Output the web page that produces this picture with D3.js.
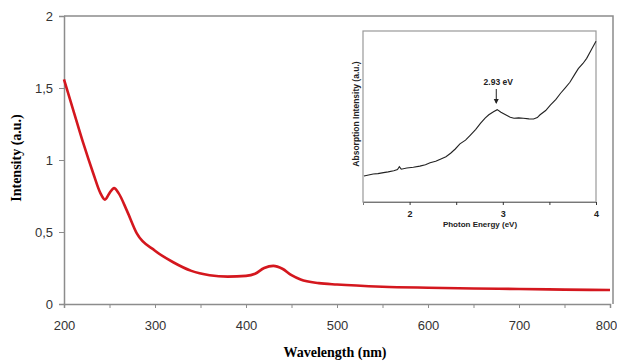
<!DOCTYPE html>
<html>
<head>
<meta charset="utf-8">
<script src="https://cdn.jsdelivr.net/npm/d3@7"></script>
<style>
  body { margin: 0; background: #fff; }
  svg { display: block; }
</style>
</head>
<body>
<script>
// main spectrum: wavelength (nm) vs intensity (a.u.)
var wavelengths = [200, 210, 221, 232, 240, 245, 250, 255, 260, 269, 280, 300, 320, 340, 360, 380, 400, 410, 420, 430, 440, 450, 460, 480, 500, 550, 600, 650, 700, 750, 800];
var intensities = [1.56, 1.35, 1.12, 0.91, 0.77, 0.725, 0.77, 0.805, 0.77, 0.65, 0.49, 0.37, 0.29, 0.23, 0.2, 0.19, 0.195, 0.21, 0.25, 0.265, 0.245, 0.2, 0.17, 0.145, 0.135, 0.12, 0.113, 0.108, 0.104, 0.1, 0.097];

// inset: photon energy (eV) vs absorption intensity (a.u.)
var energies = [1.51, 1.56, 1.61, 1.66, 1.72, 1.77, 1.83, 1.87, 1.89, 1.91, 1.97, 2.04, 2.11, 2.17, 2.22, 2.28, 2.33, 2.39, 2.44, 2.49, 2.54, 2.6, 2.65, 2.71, 2.76, 2.81, 2.85, 2.9, 2.94, 2.98, 3.03, 3.08, 3.12, 3.17, 3.22, 3.28, 3.33, 3.37, 3.4, 3.46, 3.51, 3.57, 3.62, 3.67, 3.72, 3.77, 3.81, 3.86, 3.9, 3.95, 4.0];
var absorption = [0.152, 0.158, 0.164, 0.166, 0.172, 0.176, 0.183, 0.19, 0.206, 0.192, 0.199, 0.203, 0.21, 0.218, 0.23, 0.238, 0.25, 0.265, 0.285, 0.31, 0.34, 0.362, 0.39, 0.425, 0.46, 0.49, 0.51, 0.528, 0.54, 0.525, 0.51, 0.495, 0.49, 0.492, 0.49, 0.486, 0.485, 0.494, 0.51, 0.535, 0.567, 0.6, 0.636, 0.668, 0.7, 0.745, 0.78, 0.81, 0.84, 0.89, 0.94];

var xTicks = [200, 300, 400, 500, 600, 700, 800];
var yTicks = [0, 0.5, 1, 1.5, 2];
var insetTicks = [2, 3, 4];

var w = 617, h = 362;
var svg = d3.select("body").append("svg").attr("width", w).attr("height", h);

var x = d3.scaleLinear().domain([200, 800]).range([64, 610]);
var y = d3.scaleLinear().domain([0, 2]).range([304, 16]);
var fmt = function (d) { return String(d).replace(".", ","); };

// frame (top and right)
svg.append("path")
  .attr("d", "M" + x(200) + "," + y(2) + "H" + (x(800) + 3) + "V" + y(0))
  .attr("fill", "none").attr("stroke", "#8c8c8c").attr("stroke-width", 1.5);

// axes
var xAxis = svg.append("g").attr("transform", "translate(0," + y(0) + ")")
  .call(d3.axisBottom(x).tickValues(d3.range(200, 801, 50)).tickSize(4).tickFormat(function (d) {
    return xTicks.indexOf(d) >= 0 ? d : "";
  }));
var yAxis = svg.append("g").attr("transform", "translate(" + x(200) + ",0)")
  .call(d3.axisLeft(y).tickValues(yTicks).tickSize(5).tickFormat(fmt));

[xAxis, yAxis].forEach(function (g) {
  g.select(".domain").attr("stroke", "#8c8c8c").attr("stroke-width", 1.5);
  g.selectAll(".tick line").attr("stroke", "#8c8c8c");
  g.selectAll(".tick text").attr("fill", "#333").attr("font-family", "Liberation Sans, Arial, sans-serif").attr("font-size", 13);
});
xAxis.selectAll(".tick text").attr("dy", "1.45em");
xAxis.selectAll(".tick text").filter(function (d) { return d === 800; }).attr("dx", -4);
yAxis.selectAll(".tick text").attr("dx", "-3");

// main curve
var mainLine = d3.line()
  .x(function (d, i) { return x(wavelengths[i]); })
  .y(function (d) { return y(d); })
  .curve(d3.curveMonotoneX);
svg.append("path").datum(intensities)
  .attr("d", mainLine)
  .attr("fill", "none").attr("stroke", "#d4171e").attr("stroke-width", 2.6);

// axis titles
svg.append("text").text("Wavelength (nm)")
  .attr("x", 335).attr("y", 357).attr("text-anchor", "middle")
  .attr("font-family", "Liberation Serif, Times New Roman, serif").attr("font-weight", "bold").attr("font-size", 14);
svg.append("text").text("Intensity  (a.u.)")
  .attr("transform", "translate(21,158) rotate(-90)").attr("text-anchor", "middle")
  .attr("font-family", "Liberation Serif, Times New Roman, serif").attr("font-weight", "bold").attr("font-size", 14);

// inset
var ix = d3.scaleLinear().domain([1.5, 4]).range([363, 596]);
var iy = d3.scaleLinear().domain([0, 1]).range([202, 31]);

svg.append("rect").attr("x", 363).attr("y", 31).attr("width", 233).attr("height", 171)
  .attr("fill", "#fff").attr("stroke", "#999").attr("stroke-width", 1.2);

var insetAxis = svg.append("g").attr("transform", "translate(0," + iy(0) + ")")
  .call(d3.axisBottom(ix).tickValues([2, 2.5, 3, 3.5, 4]).tickSize(3).tickFormat(function (d) {
    return insetTicks.indexOf(d) >= 0 ? d : "";
  }));
insetAxis.select(".domain").attr("stroke", "#777");
insetAxis.selectAll(".tick line").attr("stroke", "#333");
insetAxis.selectAll(".tick text").attr("fill", "#222").attr("font-family", "Liberation Sans, Arial, sans-serif")
  .attr("font-size", 9).attr("font-weight", "bold").attr("dy", "0.95em");

var insetLine = d3.line()
  .x(function (d, i) { return ix(energies[i]); })
  .y(function (d) { return iy(d); });
svg.append("path").datum(absorption)
  .attr("d", insetLine)
  .attr("fill", "none").attr("stroke", "#222").attr("stroke-width", 1.1);

svg.append("text").text("Photon Energy (eV)")
  .attr("x", 480).attr("y", 227).attr("text-anchor", "middle")
  .attr("font-family", "Liberation Sans, Arial, sans-serif").attr("font-weight", "bold").attr("font-size", 8).attr("fill", "#222");
svg.append("text").text("Absorption Intensity (a.u.)")
  .attr("transform", "translate(359,114) rotate(-90)").attr("text-anchor", "middle")
  .attr("font-family", "Liberation Sans, Arial, sans-serif").attr("font-weight", "bold").attr("font-size", 8.5).attr("fill", "#222");

// peak annotation
svg.append("text").text("2.93 eV")
  .attr("x", ix(2.93) + 2).attr("y", 85).attr("text-anchor", "middle")
  .attr("font-family", "Liberation Sans, Arial, sans-serif").attr("font-weight", 600).attr("font-size", 8.5).attr("fill", "#222");
svg.append("line").attr("x1", ix(2.93)).attr("x2", ix(2.93)).attr("y1", 89).attr("y2", 103)
  .attr("stroke", "#222").attr("stroke-width", 1);
svg.append("path")
  .attr("d", "M" + (ix(2.93) - 2.5) + ",99L" + ix(2.93) + ",104L" + (ix(2.93) + 2.5) + ",99Z")
  .attr("fill", "#222");
</script>
</body>
</html>
